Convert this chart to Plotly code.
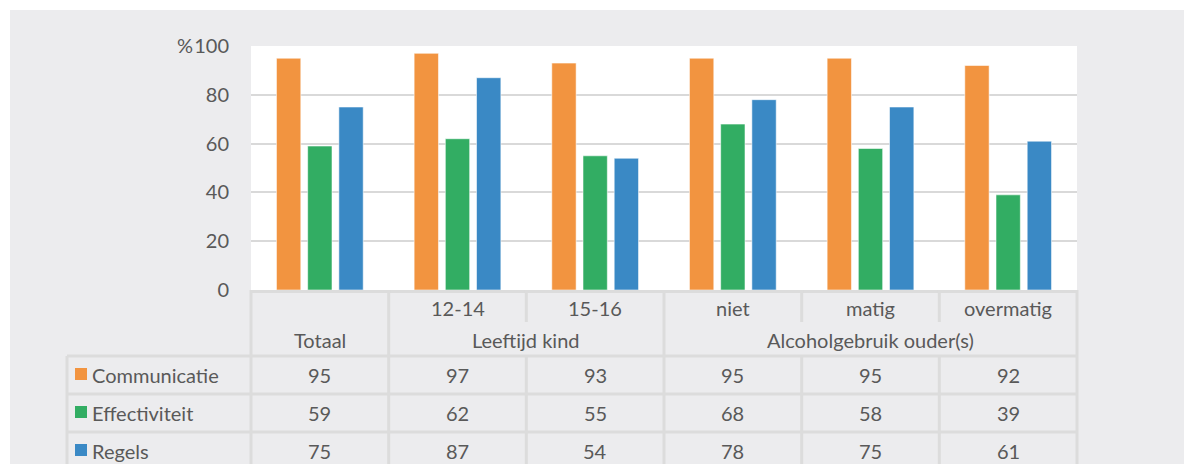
import plotly.graph_objects as go

# ---------------- data ----------------
categories = ["Totaal", "12-14", "15-16", "niet", "matig", "overmatig"]
sub_labels = ["", "12-14", "15-16", "niet", "matig", "overmatig"]
group_labels = ["Totaal", "Leeftijd kind", "Alcoholgebruik ouder(s)"]
group_start = [0, 1, 3]
group_end = [0, 2, 5]
series_names = ["Communicatie", "Effectiviteit", "Regels"]
communicatie = [95, 97, 93, 95, 95, 92]
effectiviteit = [59, 62, 55, 68, 58, 39]
regels = [75, 87, 54, 78, 75, 61]
series_colors = ["#F29440", "#32AD63", "#3A89C5"]
y_tickvals = [0, 20, 40, 60, 80, 100]
y_ticktext = ["0", "20", "40", "60", "80", "%\u200a100"]

series_values = [communicatie, effectiviteit, regels]

# ---------------- layout constants (screen pixels) ----------------
SW, SH = 1192, 464          # browser window
OFF = 8                     # page body margin
W, H = SW - OFF, SH - OFF   # figure size
PL, PR, PT, PB = 251, 1077, 46, 290
BG = "#ECECEE"
LINE = "#DCDCDC"
TXT = "#595959"
FONT = "Lato"
FS = 20


def fx(px):
    return (px - PL) / (PR - PL)


def fy(py):
    return (PB - py) / (PB - PT)


fig = go.Figure()
for name, vals, col in zip(series_names, series_values, series_colors):
    fig.add_trace(go.Bar(
        x=categories, y=vals, name=name,
        marker=dict(color=col, line=dict(color="rgba(255,255,255,0.55)", width=1)),
        showlegend=False, hoverinfo="skip",
    ))

shapes = []
annotations = []

# white strips at top and left of page
shapes.append(dict(type="rect", xref="paper", yref="paper", x0=fx(0), x1=fx(SW), y0=fy(0), y1=fy(10),
                   fillcolor="white", line=dict(width=0), layer="below"))
shapes.append(dict(type="rect", xref="paper", yref="paper", x0=fx(0), x1=fx(10), y0=fy(0), y1=fy(SH),
                   fillcolor="white", line=dict(width=0), layer="below"))

n = len(categories)
hdr_split = 322
hdr_bottom = 356
row_h = 38
table_left = 67
full_cols = set([0] + [e + 1 for e in group_end])

# vertical column lines
for i in range(n + 1):
    xp = i / n
    if i in full_cols:
        shapes.append(dict(type="line", xref="paper", yref="paper", x0=xp, x1=xp, y0=fy(PB), y1=fy(SH + 5),
                           line=dict(color=LINE, width=3)))
    else:
        shapes.append(dict(type="line", xref="paper", yref="paper", x0=xp, x1=xp, y0=fy(PB), y1=fy(hdr_split),
                           line=dict(color=LINE, width=3)))
        shapes.append(dict(type="line", xref="paper", yref="paper", x0=xp, x1=xp, y0=fy(hdr_bottom), y1=fy(SH + 5),
                           line=dict(color=LINE, width=3)))
# left border of legend column
shapes.append(dict(type="line", xref="paper", yref="paper", x0=fx(table_left), x1=fx(table_left),
                   y0=fy(hdr_bottom), y1=fy(SH + 5), line=dict(color=LINE, width=3)))
# horizontal row lines
for r in range(len(series_names)):
    yy = hdr_bottom + r * row_h
    shapes.append(dict(type="line", xref="paper", yref="paper", x0=fx(table_left), x1=1, y0=fy(yy), y1=fy(yy),
                       line=dict(color=LINE, width=3)))

# header texts
for i, lab in enumerate(sub_labels):
    if lab:
        annotations.append(dict(xref="paper", yref="paper", x=(i + 0.5) / n, y=fy(308), text=lab,
                                showarrow=False, xanchor="center", yanchor="middle"))
for lab, s, e in zip(group_labels, group_start, group_end):
    annotations.append(dict(xref="paper", yref="paper", x=(s + e + 1) / 2 / n, y=fy(340), text=lab,
                            showarrow=False, xanchor="center", yanchor="middle"))

# data rows
for r, (name, vals, col) in enumerate(zip(series_names, series_values, series_colors)):
    yc = hdr_bottom + r * row_h + row_h / 2
    shapes.append(dict(type="rect", xref="paper", yref="paper", x0=fx(75), x1=fx(87),
                       y0=fy(yc - 7), y1=fy(yc + 5), fillcolor=col, line=dict(width=0)))
    annotations.append(dict(xref="paper", yref="paper", x=fx(90), y=fy(yc), text=name,
                            showarrow=False, xanchor="left", yanchor="middle"))
    for i, v in enumerate(vals):
        annotations.append(dict(xref="paper", yref="paper", x=(i + 0.5) / n, y=fy(yc), text=str(v),
                                showarrow=False, xanchor="center", yanchor="middle"))

fig.update_layout(
    width=W, height=H,
    margin=dict(l=PL - OFF, r=SW - PR, t=PT - OFF, b=SH - PB, pad=0),
    paper_bgcolor=BG, plot_bgcolor="white",
    font=dict(family=FONT, size=FS, color=TXT),
    barmode="group", bargap=0.32, bargroupgap=0.22,
    shapes=shapes, annotations=annotations,
    xaxis=dict(showticklabels=False, ticks="", showgrid=False, zeroline=False,
               showline=True, linecolor=LINE, linewidth=3, fixedrange=True),
    yaxis=dict(range=[0, 100], tickvals=y_tickvals, ticktext=y_ticktext,
               showgrid=True, gridcolor="#D9D9D9", gridwidth=2, zeroline=False,
               showline=False, ticks="", ticklabelstandoff=21, fixedrange=True,
               tickfont=dict(family=FONT, size=FS, color=TXT)),
)

fig.write_html("out.html")
